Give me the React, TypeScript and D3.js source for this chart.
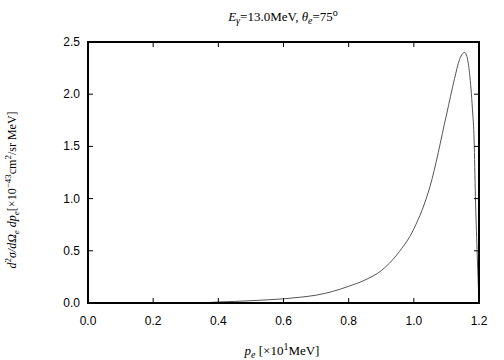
import React from 'react';
import * as d3 from 'd3';

// electron momentum [x10 MeV]
const pe = [0.35, 0.4, 0.45, 0.5, 0.55, 0.6, 0.65, 0.7, 0.75, 0.8, 0.85, 0.9, 0.95, 1.0, 1.05, 1.1, 1.125, 1.14, 1.15, 1.156, 1.163, 1.171, 1.18, 1.185, 1.189, 1.194, 1.2];
// cross section [x10^-43 cm^2/sr MeV]
const xsec = [0, 0.01, 0.015, 0.022, 0.03, 0.04, 0.055, 0.075, 0.11, 0.16, 0.22, 0.31, 0.47, 0.71, 1.12, 1.8, 2.15, 2.33, 2.39, 2.4, 2.36, 2.2, 1.85, 1.56, 1.02, 0.51, 0];
const xTicks = [0, 0.2, 0.4, 0.6, 0.8, 1.0, 1.2];
const yTicks = [0, 0.5, 1.0, 1.5, 2.0, 2.5];

const W = 504, H = 360;
const m = { left: 88, right: 25, top: 42, bottom: 57 };

export default function App() {
  const x = d3.scaleLinear().domain([0, 1.2]).range([m.left, W - m.right]);
  const y = d3.scaleLinear().domain([0, 2.5]).range([H - m.bottom, m.top]);
  const line = d3.line<number>()
    .x((_, i) => x(pe[i]))
    .y(d => y(d))
    .curve(d3.curveMonotoneX);

  const tick = 5;
  const sans = 'Liberation Sans, Arial, sans-serif';
  const serif = 'Liberation Serif, Times New Roman, serif';

  return (
    <svg width={W} height={H} style={{ position: 'absolute', left: 0, top: 0 }}>
      <rect width={W} height={H} fill="#fff" />
      <path d={line(xsec) || ''} fill="none" stroke="#555" strokeWidth={1} />

      {/* ticks, mirrored on every side */}
      {xTicks.map(t => (
        <g key={'x' + t}>
          <line x1={x(t)} x2={x(t)} y1={y(0)} y2={y(0) - tick} stroke="#000" />
          <line x1={x(t)} x2={x(t)} y1={y(2.5)} y2={y(2.5) + tick} stroke="#000" />
          <text x={x(t)} y={y(0) + 22} textAnchor="middle" fontFamily={sans} fontSize={12}>{t.toFixed(1)}</text>
        </g>
      ))}
      {yTicks.map(t => (
        <g key={'y' + t}>
          <line x1={x(0)} x2={x(0) + tick} y1={y(t)} y2={y(t)} stroke="#000" />
          <line x1={x(1.2)} x2={x(1.2) - tick} y1={y(t)} y2={y(t)} stroke="#000" />
          <text x={x(0) - 8} y={y(t) + 4} textAnchor="end" fontFamily={sans} fontSize={12}>{t.toFixed(1)}</text>
        </g>
      ))}
      <rect x={x(0)} y={y(2.5)} width={x(1.2) - x(0)} height={y(0) - y(2.5)} fill="none" stroke="#000" strokeWidth={2} />

      <text x={283} y={21} textAnchor="middle" fontFamily={serif} fontSize={13}>
        <tspan fontStyle="italic">E</tspan>
        <tspan fontStyle="italic" fontSize={10} dy={3}>γ</tspan>
        <tspan dy={-3}>=13.0MeV,  </tspan>
        <tspan fontStyle="italic">θ</tspan>
        <tspan fontStyle="italic" fontSize={10} dy={3}>e</tspan>
        <tspan dy={-3}>=75</tspan>
        <tspan fontSize={10} dy={-5}>o</tspan>
      </text>

      <text x={282} y={355} textAnchor="middle" fontFamily={serif} fontSize={13}>
        <tspan fontStyle="italic">p</tspan>
        <tspan fontStyle="italic" fontSize={10} dy={3}>e</tspan>
        <tspan dy={-3}> [×10</tspan>
        <tspan fontSize={10} dy={-5}>1</tspan>
        <tspan dy={5}>MeV]</tspan>
      </text>

      <text transform="translate(16,190) rotate(-90)" textAnchor="middle" fontFamily={serif} fontSize={12}>
        <tspan fontStyle="italic">d</tspan>
        <tspan fontSize={9} dy={-5}>2</tspan>
        <tspan fontStyle="italic" dy={5}>σ/dΩ</tspan>
        <tspan fontStyle="italic" fontSize={9} dy={3}>e</tspan>
        <tspan fontStyle="italic" dy={-3}> dp</tspan>
        <tspan fontStyle="italic" fontSize={9} dy={3}>e</tspan>
        <tspan dy={-3}>[×10</tspan>
        <tspan fontSize={9} dy={-5}>−43</tspan>
        <tspan dy={5}>cm</tspan>
        <tspan fontSize={9} dy={-5}>2</tspan>
        <tspan dy={5}>/sr MeV]</tspan>
      </text>
    </svg>
  );
}
